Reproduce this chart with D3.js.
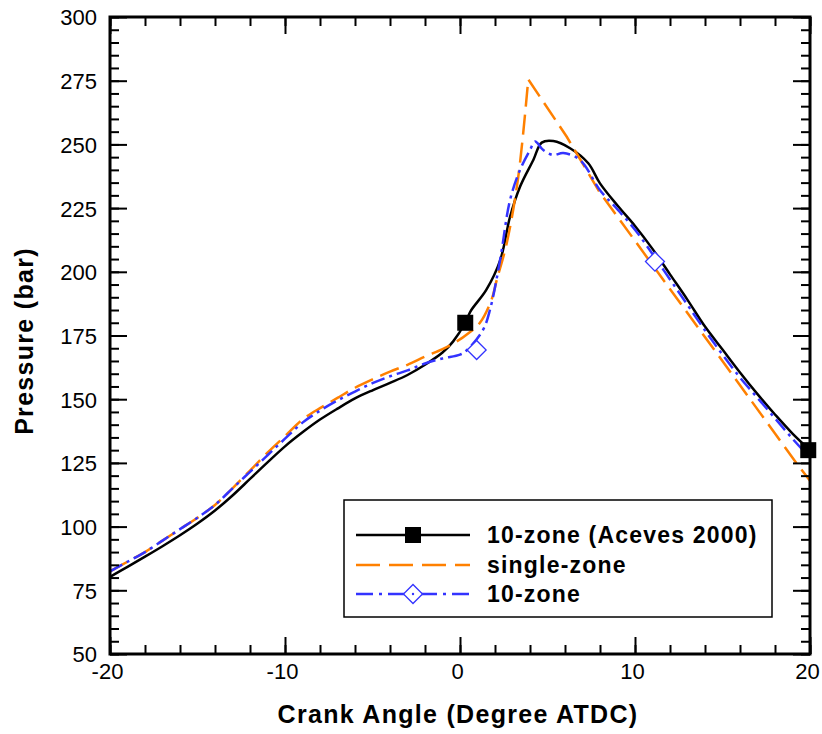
<!DOCTYPE html>
<html><head><meta charset="utf-8">
<script src="https://cdn.jsdelivr.net/npm/d3@7"></script>
<style>body{margin:0;background:#fff}svg{display:block}text{font-family:"Liberation Sans",Arial,sans-serif}</style>
</head><body><svg id="c" width="822" height="734"></svg>
<script>
const xTicks = [-20, -10, 0, 10, 20];
const yTicks = [50, 75, 100, 125, 150, 175, 200, 225, 250, 275, 300];
const seriesNames = ["10-zone (Aceves 2000)", "single-zone", "10-zone"];
const aceves = [[-20,80.3],[-19,84.2],[-18,88.2],[-17,92.3],[-16,96.6],[-15,101.2],[-14,106.3],[-13,112.2],[-12,118.7],[-11,125.2],[-10,131.5],[-9,137],[-8,142],[-7,146.3],[-6,150.3],[-5,153.5],[-4,156.4],[-3,159.5],[-2,163.5],[-1,168.3],[-0.4,172.6],[0.3,180],[0.6,184.5],[1.5,192.9],[2.3,204.6],[2.86,221.6],[3.43,233.4],[4.19,243.9],[4.67,250.7],[5.33,251.3],[6.29,248.5],[7.33,242.6],[8,234.7],[9,226],[10,218],[11,209],[12,199],[13,189],[14,178.5],[15,169.5],[16,160.5],[17,152],[18,144],[19,136.5],[20,130]];
const singleZone = [[-20,82.4],[-19,86.2],[-18,90],[-17,94.5],[-16,99],[-15,103.5],[-14,108.5],[-13,115],[-12,122],[-11,129],[-10,135.5],[-9,142],[-8,146.5],[-7,150.5],[-6,154.5],[-5,157.8],[-4,160.8],[-3,163.5],[-2,166.7],[-1,169.7],[-0.2,172.6],[0.5,176],[1.14,180],[1.8,189],[2.1,196.8],[2.67,211.2],[3.33,237.3],[3.9,275.5],[6.1,253],[8,231],[9.14,220.3],[10.86,204],[13.7,177.2],[16,155.5],[18,136.5],[19.24,124.8],[20,118]];
const tenZone = [[-20,82.4],[-19,86.2],[-18,90],[-17,94.5],[-16,99],[-15,103.5],[-14,108.5],[-13,115],[-12,121.5],[-11,128],[-10,134.5],[-9,140.8],[-8,145.5],[-7,149.5],[-6,153],[-5,156.3],[-4,159],[-3,161.3],[-2,164],[-1,166],[0,167.5],[0.4,169.3],[1.3,177],[1.71,185],[2.29,204.6],[2.86,228.2],[3.43,240],[4,247.8],[4.29,251.1],[4.76,247.8],[5.33,245.8],[5.9,246.6],[6.86,243.9],[8,232],[9,224.5],[10,216.5],[11,207],[12,197],[13,187],[14,177],[15,167.5],[16,158.5],[17,150.5],[18,142.5],[19,134.5],[20,127]];
const acevesMarkers = [[0.3,180],[19.9,130]];
const tenZoneMarkers = [[0.95,169.3],[11.14,204]];
const colors = ["#000000", "#FF8000", "#3333FF"];

const svg = d3.select("#c");
const L = 110, R = 810, T = 17, B = 654;
const x = d3.scaleLinear().domain([-20, 20]).range([L, R]);
const y = d3.scaleLinear().domain([50, 300]).range([B, T]);
const FONT = "Liberation Sans, Arial, sans-serif";

const plot = svg.append("g");
const smooth = d3.line().x(d => x(d[0])).y(d => y(d[1])).curve(d3.curveCatmullRom.alpha(0.5));
const straight = d3.line().x(d => x(d[0])).y(d => y(d[1]));
const peakIdx = singleZone.findIndex(d => d[1] === d3.max(singleZone, e => e[1]));
plot.append("path").datum(aceves).attr("d", smooth).attr("fill","none").attr("stroke",colors[0]).attr("stroke-width",2.5);
plot.append("path").attr("d", smooth(singleZone.slice(0, peakIdx + 1)) + straight(singleZone.slice(peakIdx)).replace(/^M/, "L"))
  .attr("fill","none").attr("stroke",colors[1]).attr("stroke-width",2.5).attr("stroke-dasharray","20,8");
plot.append("path").datum(tenZone).attr("d", smooth).attr("fill","none").attr("stroke",colors[2]).attr("stroke-width",2.5).attr("stroke-dasharray","14,5,3,5");

plot.selectAll("rect.m").data(acevesMarkers).enter().append("rect")
  .attr("x", d => x(d[0]) - 8).attr("y", d => y(d[1]) - 8).attr("width",16).attr("height",16).attr("fill","#000");
plot.selectAll("path.dm").data(tenZoneMarkers).enter().append("path")
  .attr("transform", d => `translate(${x(d[0])},${y(d[1])}) rotate(45)`)
  .attr("d", d3.symbol().type(d3.symbolSquare).size(180)).attr("fill","#fff").attr("stroke",colors[2]).attr("stroke-width",1.3);

const xMinor = d3.range(-20, 20.01, 2);
const yMinor = d3.range(50, 300.01, 5);
function axisG(axis, tr){ const g = svg.append("g").attr("transform", tr).call(axis); g.select(".domain").remove(); g.selectAll(".tick line").attr("stroke","#000").attr("stroke-width",2); return g; }
axisG(d3.axisBottom(x).tickValues(xMinor).tickSize(-9).tickFormat(""), `translate(0,${B})`);
axisG(d3.axisTop(x).tickValues(xMinor).tickSize(-9).tickFormat(""), `translate(0,${T})`);
axisG(d3.axisLeft(y).tickValues(yMinor).tickSize(-9).tickFormat(""), `translate(${L},0)`);
axisG(d3.axisRight(y).tickValues(yMinor).tickSize(-9).tickFormat(""), `translate(${R},0)`);
const fmt = d => String(d);
const gx = axisG(d3.axisBottom(x).tickValues(xTicks).tickSize(-17).tickFormat(fmt), `translate(0,${B})`);
axisG(d3.axisTop(x).tickValues(xTicks).tickSize(-17).tickFormat(""), `translate(0,${T})`);
const gy = axisG(d3.axisLeft(y).tickValues(yTicks).tickSize(-17).tickPadding(13).tickFormat(fmt), `translate(${L},0)`);
axisG(d3.axisRight(y).tickValues(yTicks).tickSize(-17).tickFormat(""), `translate(${R},0)`);
gx.selectAll("text").attr("font-size",22).attr("fill","#000").attr("font-family",FONT).attr("dy","0").attr("y",25).attr("dx","-3");
gy.selectAll("text").attr("font-size",22).attr("fill","#000").attr("font-family",FONT).attr("dy","0.36em");

svg.append("rect").attr("x",L).attr("y",T).attr("width",R-L).attr("height",B-T).attr("fill","none").attr("stroke","#000").attr("stroke-width",3);

svg.append("text").attr("x",458).attr("y",723).attr("text-anchor","middle").attr("font-size",25).attr("font-weight","bold").attr("letter-spacing",1.3).text("Crank Angle (Degree ATDC)");
svg.append("text").attr("transform","translate(33,341) rotate(-90)").attr("text-anchor","middle").attr("font-size",25).attr("font-weight","bold").attr("letter-spacing",1.3).text("Pressure (bar)");

const lg = svg.append("g");
lg.append("rect").attr("x",344).attr("y",500).attr("width",428).attr("height",117).attr("fill","#fff").attr("stroke","#000").attr("stroke-width",1.5);
const ly = [535, 565, 594];
const dashes = [null, "24,9", "17,6,3,6"];
seriesNames.forEach((n,i) => {
  const l = lg.append("line").attr("x1",356).attr("x2",470).attr("y1",ly[i]).attr("y2",ly[i]).attr("stroke",colors[i]).attr("stroke-width",2.5);
  if (dashes[i]) l.attr("stroke-dasharray", dashes[i]);
  lg.append("text").attr("x",487).attr("y",ly[i]).attr("dy","0.36em").attr("font-size",23).attr("font-weight","bold").attr("letter-spacing",1.2).text(n);
});
lg.append("rect").attr("x",405).attr("y",ly[0]-8).attr("width",16).attr("height",16).attr("fill","#000");
lg.append("path").attr("transform",`translate(413,${ly[2]}) rotate(45)`).attr("d", d3.symbol().type(d3.symbolSquare).size(180)).attr("fill","#fff").attr("stroke",colors[2]).attr("stroke-width",1.3);
lg.append("circle").attr("cx",413).attr("cy",ly[2]).attr("r",1.2).attr("fill",colors[2]);
</script></body></html>
